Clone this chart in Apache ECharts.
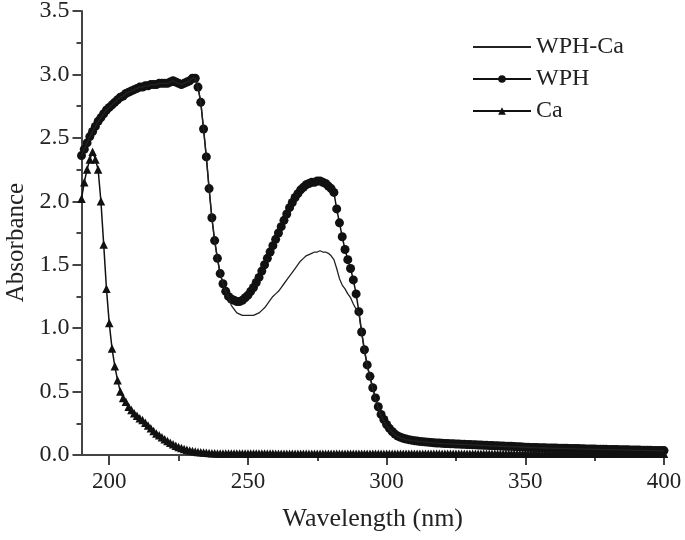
<!DOCTYPE html>
<html>
<head>
<meta charset="utf-8">
<script src="https://cdn.jsdelivr.net/npm/echarts@6/dist/echarts.min.js"></script>
<style>html,body{margin:0;padding:0;background:#fff}#c{width:685px;height:540px}</style>
</head>
<body>
<div id="c"></div>
<script>
// Wavelength grid: 190..400 nm, 1 nm step
const startNm = 190;
const xTickLabels = [200, 250, 300, 350, 400];
const xMinorTicks = [225, 275, 325, 375];
const seriesNames = ['WPH-Ca', 'WPH', 'Ca'];

const wph = [
  2.36, 2.41, 2.46, 2.51, 2.55, 2.59, 2.63, 2.66, 2.69, 2.72,
  2.74, 2.76, 2.78, 2.80, 2.82, 2.83, 2.85, 2.86, 2.87, 2.88,
  2.89, 2.90, 2.90, 2.91, 2.91, 2.92, 2.92, 2.92, 2.93, 2.93,
  2.93, 2.93, 2.94, 2.95, 2.94, 2.93, 2.92, 2.93, 2.94, 2.95,
  2.97, 2.97, 2.90, 2.78, 2.57, 2.35, 2.10, 1.87, 1.69, 1.55,
  1.43, 1.35, 1.29, 1.25, 1.23, 1.22, 1.21, 1.21, 1.22, 1.24,
  1.26, 1.29, 1.32, 1.36, 1.40, 1.45, 1.50, 1.55, 1.60, 1.65,
  1.70, 1.75, 1.80, 1.85, 1.90, 1.95, 1.99, 2.03, 2.06, 2.09,
  2.11, 2.13, 2.14, 2.15, 2.15, 2.16, 2.16, 2.15, 2.14, 2.12,
  2.10, 2.07, 1.94, 1.83, 1.72, 1.62, 1.54, 1.47, 1.38, 1.27,
  1.13, 0.97, 0.83, 0.71, 0.62, 0.53, 0.45, 0.38, 0.32, 0.28,
  0.24, 0.21, 0.185, 0.165, 0.15, 0.14, 0.132, 0.126, 0.121, 0.117,
  0.113, 0.110, 0.107, 0.105, 0.103, 0.101, 0.099, 0.097, 0.095, 0.094,
  0.092, 0.091, 0.090, 0.089, 0.088, 0.087, 0.086, 0.085, 0.084, 0.083,
  0.082, 0.081, 0.080, 0.079, 0.078, 0.077, 0.076, 0.075, 0.074, 0.073,
  0.072, 0.071, 0.070, 0.069, 0.068, 0.068, 0.067, 0.066, 0.065, 0.064,
  0.062, 0.061, 0.060, 0.060, 0.059, 0.058, 0.058, 0.057, 0.056, 0.056,
  0.055, 0.055, 0.054, 0.054, 0.053, 0.053, 0.052, 0.052, 0.051, 0.051,
  0.049, 0.049, 0.048, 0.048, 0.047, 0.047, 0.046, 0.046, 0.045, 0.045,
  0.044, 0.044, 0.043, 0.043, 0.042, 0.042, 0.041, 0.041, 0.040, 0.040,
  0.039, 0.039, 0.038, 0.038, 0.037, 0.037, 0.036, 0.036, 0.035, 0.035, 0.035
];

const wphCa = [
  2.36, 2.41, 2.46, 2.51, 2.55, 2.59, 2.63, 2.66, 2.69, 2.72,
  2.74, 2.76, 2.78, 2.80, 2.82, 2.83, 2.85, 2.86, 2.87, 2.88,
  2.89, 2.90, 2.90, 2.91, 2.91, 2.92, 2.92, 2.92, 2.93, 2.93,
  2.93, 2.93, 2.94, 2.95, 2.94, 2.93, 2.92, 2.93, 2.94, 2.95,
  2.97, 2.97, 2.90, 2.78, 2.57, 2.35, 2.10, 1.87, 1.69, 1.55,
  1.43, 1.35, 1.29, 1.24, 1.18, 1.15, 1.12, 1.11, 1.10, 1.10,
  1.10, 1.10, 1.10, 1.11, 1.12, 1.14, 1.16, 1.19, 1.22, 1.25,
  1.27, 1.29, 1.32, 1.35, 1.38, 1.41, 1.44, 1.47, 1.50, 1.53,
  1.55, 1.57, 1.58, 1.59, 1.60, 1.60, 1.61, 1.60, 1.60, 1.59,
  1.57, 1.54, 1.47, 1.39, 1.34, 1.31, 1.27, 1.24, 1.19, 1.15,
  1.12, 0.96, 0.82, 0.70, 0.61, 0.52, 0.44, 0.37, 0.31, 0.27,
  0.23, 0.20, 0.18, 0.16, 0.145, 0.135, 0.128, 0.122, 0.118, 0.114,
  0.111, 0.108, 0.105, 0.103, 0.101, 0.099, 0.097, 0.095, 0.093, 0.092,
  0.090, 0.089, 0.088, 0.087, 0.086, 0.085, 0.084, 0.083, 0.082, 0.081,
  0.080, 0.079, 0.078, 0.077, 0.076, 0.075, 0.074, 0.073, 0.072, 0.071,
  0.070, 0.069, 0.068, 0.067, 0.066, 0.066, 0.065, 0.064, 0.063, 0.062,
  0.060, 0.059, 0.058, 0.058, 0.057, 0.056, 0.056, 0.055, 0.054, 0.054,
  0.053, 0.053, 0.052, 0.052, 0.051, 0.051, 0.050, 0.050, 0.049, 0.049,
  0.047, 0.047, 0.046, 0.046, 0.045, 0.045, 0.044, 0.044, 0.043, 0.043,
  0.042, 0.042, 0.041, 0.041, 0.040, 0.040, 0.039, 0.039, 0.038, 0.038,
  0.037, 0.037, 0.036, 0.036, 0.035, 0.035, 0.034, 0.034, 0.033, 0.033, 0.033
];

const ca = [
  2.02, 2.15, 2.25, 2.33, 2.39, 2.33, 2.25, 2.00, 1.66, 1.31,
  1.04, 0.84, 0.70, 0.59, 0.50, 0.45, 0.42, 0.38, 0.355, 0.33,
  0.31, 0.29, 0.276, 0.255, 0.232, 0.21, 0.19, 0.17, 0.155, 0.14,
  0.125, 0.11, 0.097, 0.085, 0.073, 0.063, 0.055, 0.048, 0.042, 0.036,
  0.031, 0.027, 0.024, 0.021, 0.019, 0.017, 0.015, 0.014, 0.013, 0.012,
  0.011, 0.011, 0.011, 0.011, 0.011, 0.011, 0.011, 0.011, 0.011, 0.011,
  0.011, 0.011, 0.011, 0.011, 0.011, 0.011, 0.011, 0.011, 0.011, 0.011,
  0.010, 0.010, 0.010, 0.010, 0.010, 0.010, 0.010, 0.010, 0.010, 0.010,
  0.010, 0.010, 0.010, 0.010, 0.010, 0.010, 0.010, 0.010, 0.010, 0.010,
  0.010, 0.010, 0.010, 0.010, 0.010, 0.010, 0.010, 0.010, 0.010, 0.010,
  0.010, 0.010, 0.010, 0.010, 0.010, 0.010, 0.010, 0.010, 0.010, 0.010,
  0.010, 0.010, 0.010, 0.010, 0.010, 0.010, 0.010, 0.010, 0.010, 0.010,
  0.010, 0.010, 0.010, 0.010, 0.010, 0.010, 0.010, 0.010, 0.010, 0.010,
  0.010, 0.010, 0.010, 0.010, 0.010, 0.010, 0.010, 0.010, 0.010, 0.010,
  0.010, 0.010, 0.010, 0.010, 0.010, 0.010, 0.010, 0.010, 0.010, 0.010,
  0.010, 0.010, 0.010, 0.010, 0.010, 0.010, 0.010, 0.010, 0.010, 0.010,
  0.010, 0.010, 0.010, 0.010, 0.010, 0.010, 0.010, 0.010, 0.010, 0.010,
  0.010, 0.010, 0.010, 0.010, 0.010, 0.010, 0.010, 0.010, 0.010, 0.010,
  0.010, 0.010, 0.010, 0.010, 0.010, 0.010, 0.010, 0.010, 0.010, 0.010,
  0.010, 0.010, 0.010, 0.010, 0.010, 0.010, 0.010, 0.010, 0.010, 0.010,
  0.010, 0.010, 0.010, 0.010, 0.010, 0.010, 0.010, 0.010, 0.010, 0.010, 0.010
];

const pairs = arr => arr.map((v, i) => [startNm + i, v]);

const FONT = 'Liberation Serif';
const TXT = '#222';
const AX = '#444';

const chart = echarts.init(document.getElementById('c'), null, {renderer: 'canvas'});
chart.setOption({
  animation: false,
  backgroundColor: '#fff',
  grid: {left: 81.5, right: 21, top: 11, bottom: 85, containLabel: false, outerBoundsMode: 'none'},
  legend: {
    left: 472, top: 35, orient: 'vertical', padding: 0,
    itemWidth: 58, itemHeight: 9.5, itemGap: 8,
    data: [{name: seriesNames[0], icon: 'path://M0,0 L58,0 L58,1.9 L0,1.9 Z'}, seriesNames[1], seriesNames[2]],
    textStyle: {fontFamily: FONT, fontSize: 24, color: TXT}
  },
  xAxis: [{
    type: 'value', min: 190, max: 400,
    name: 'Wavelength (nm)', nameLocation: 'middle', nameGap: 51,
    nameTextStyle: {fontFamily: FONT, fontSize: 26, color: TXT},
    axisLine: {show: true, lineStyle: {color: AX, width: 2}},
    axisTick: {show: true, length: 10, customValues: xTickLabels, lineStyle: {color: AX, width: 2}},
    axisLabel: {customValues: xTickLabels, margin: 15, fontFamily: FONT, fontSize: 23, color: TXT},
    splitLine: {show: false}
  }, {
    type: 'value', min: 190, max: 400, position: 'bottom',
    axisLine: {show: false},
    axisTick: {show: true, length: 6, customValues: xMinorTicks, lineStyle: {color: AX, width: 2}},
    axisLabel: {show: false},
    splitLine: {show: false}
  }],
  yAxis: {
    type: 'value', min: 0, max: 3.5, interval: 0.5,
    name: 'Absorbance', nameLocation: 'middle', nameGap: 52.5,
    nameTextStyle: {fontFamily: FONT, fontSize: 25, color: TXT, padding: [0, 19, 0, 0]},
    axisLine: {show: true, lineStyle: {color: AX, width: 2}},
    axisTick: {show: true, length: 9, lineStyle: {color: AX, width: 2}},
    minorTick: {show: true, splitNumber: 2, length: 5, lineStyle: {color: AX, width: 2}},
    axisLabel: {margin: 12, fontFamily: FONT, fontSize: 24, color: TXT, formatter: v => v.toFixed(1)},
    splitLine: {show: false}
  },
  series: [
    {
      name: 'WPH-Ca', type: 'line', data: pairs(wphCa), showSymbol: false, symbol: 'none',
      lineStyle: {color: '#222', width: 1.3}, itemStyle: {color: '#222'}, z: 3
    },
    {
      name: 'WPH', type: 'line', data: pairs(wph), symbol: 'circle', symbolSize: 9,
      lineStyle: {color: '#111', width: 1.5}, itemStyle: {color: '#111'}, z: 2
    },
    {
      name: 'Ca', type: 'line', data: pairs(ca), symbol: 'triangle', symbolSize: 8.5,
      lineStyle: {color: '#111', width: 1.5}, itemStyle: {color: '#111'}, z: 2
    }
  ]
});
</script>
</body>
</html>
